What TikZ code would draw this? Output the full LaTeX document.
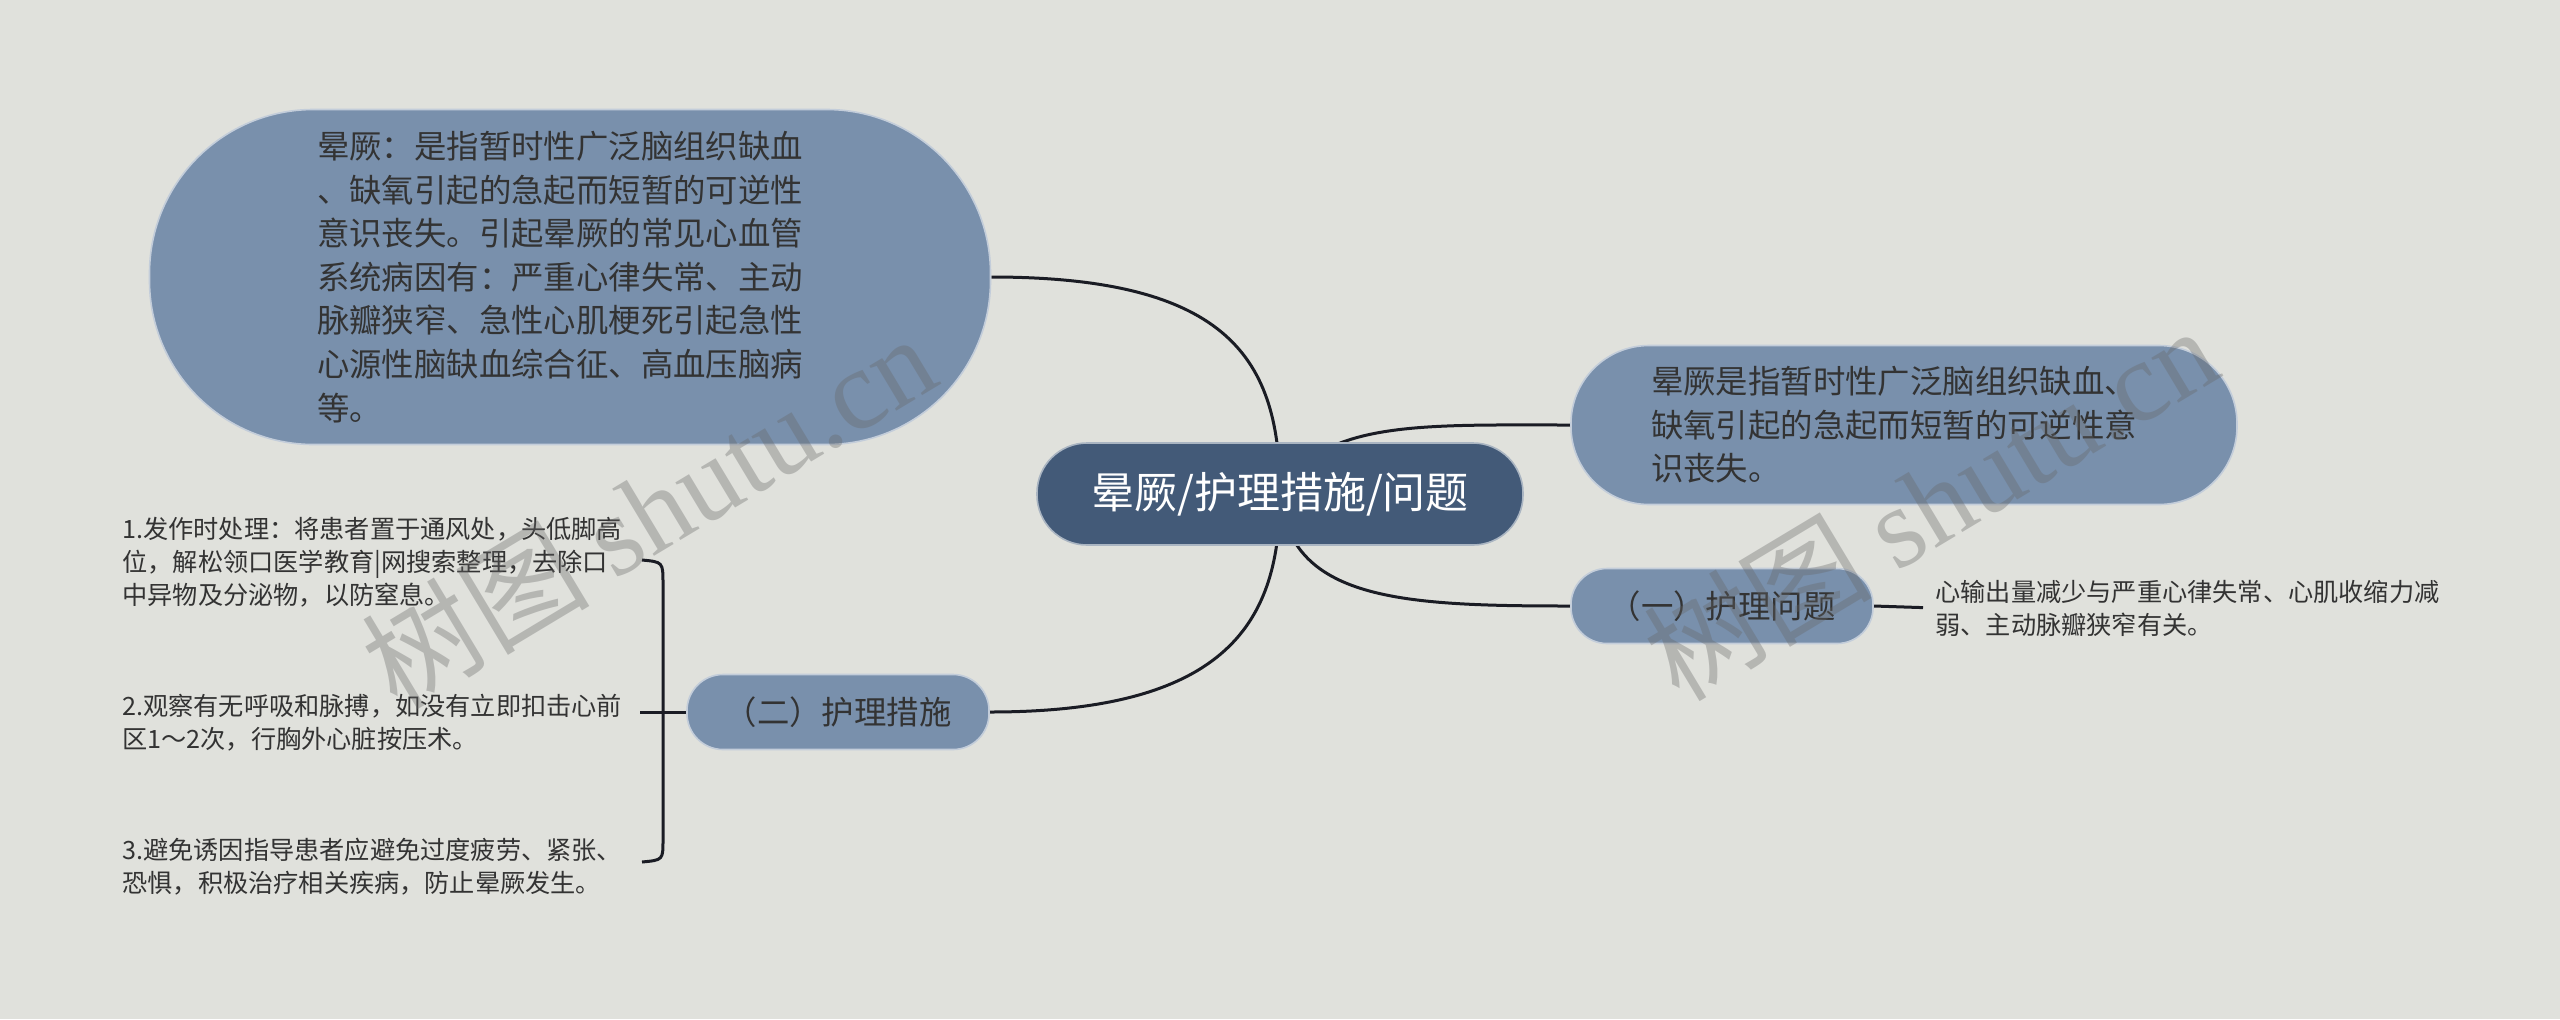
\documentclass[tikz,border=0pt]{standalone}
\usepackage{fontspec}
\setmainfont{Noto Sans CJK SC}
\newfontfamily\wmfont{Liberation Serif}
\usetikzlibrary{backgrounds}
\definecolor{bgcol}{HTML}{E0E1DC}
\definecolor{rootcol}{HTML}{435A78}
\definecolor{topiccol}{HTML}{7990AC}
\definecolor{textcol}{HTML}{333333}
\definecolor{linecol}{HTML}{1A1C24}
\tikzset{
  rootbox/.style={fill=rootcol, draw=white!55!rootcol, line width=0.8pt, text=white,
    font=\fontsize{21.5}{26}\selectfont, rounded corners=25pt,
    minimum width=243pt, minimum height=51pt, inner sep=0pt},
  topicbox/.style={fill=topiccol, draw=white!55!topiccol, line width=0.8pt, text=textcol,
    font=\fontsize{16.2}{21.8}\selectfont, align=left, inner sep=0pt},
  notetext/.style={text=textcol, font=\fontsize{12.6}{16.5}\selectfont, align=left,
    anchor=west, inner sep=0pt},
  branchline/.style={draw=linecol, line width=1.5pt},
  watermark/.style={text=black!60, opacity=0.35, font=\fontsize{57}{60}\selectfont, rotate=31},
}

\begin{document}
\begin{tikzpicture}[x=0.5pt,y=-0.5pt]
  \useasboundingbox (0,0) rectangle (2560,1019);

  % centre and topics
  \node[rootbox] (root) at (1280,494) {晕厥/护理措施/问题};
  \node[topicbox, minimum width=420.5pt, minimum height=167.5pt, rounded corners=82pt] (def) at (570,277)
    {晕厥：是指暂时性广泛脑组织缺血\hspace*{10pt}\\、缺氧引起的急起而短暂的可逆性\\意识丧失。引起晕厥的常见心血管\\系统病因有：严重心律失常、主动\\脉瓣狭窄、急性心肌梗死引起急性\\心源性脑缺血综合征、高血压脑病\\等。};
  \node[topicbox, minimum width=333pt, minimum height=79.5pt, rounded corners=39pt] (sum) at (1904,425)
    {晕厥是指暂时性广泛脑组织缺血、\hspace*{10pt}\\缺氧引起的急起而短暂的可逆性意\\识丧失。};
  \node[topicbox, minimum width=151pt, minimum height=37.5pt, rounded corners=18pt] (prob) at (1722,606) {（一）护理问题};
  \node[topicbox, minimum width=151pt, minimum height=37.5pt, rounded corners=18pt] (meas) at (838,712) {（二）护理措施};

  % notes
  \node[notetext] (probtxt) at (1935,608) {心输出量减少与严重心律失常、心肌收缩力减\\弱、主动脉瓣狭窄有关。};
  \node[notetext] (m1) at (122,562) {1.发作时处理：将患者置于通风处，头低脚高\\位，解松领口医学教育|网搜索整理，去除口\\中异物及分泌物，以防窒息。};
  \node[notetext] (m2) at (122,723) {2.观察有无呼吸和脉搏，如没有立即扣击心前\\区1～2次，行胸外心脏按压术。};
  \node[notetext] (m3) at (122,867) {3.避免诱因指导患者应避免过度疲劳、紧张、\\恐惧，积极治疗相关疾病，防止晕厥发生。};

  \coordinate (brtop) at (642,560);
  \coordinate (brbot) at (642,862);
  \coordinate (brmid) at (640,712);

  % watermarks
  \node[watermark] (wm1) at (648,510) {树图 {\wmfont shutu.cn}};
  \node[watermark] (wm2) at (1930,502) {树图 {\wmfont shutu.cn}};

  \begin{scope}[on background layer]
    \fill[bgcol] (0,0) rectangle (2560,1019);
    \draw[branchline] (def.east) .. controls (1230,277) and (1280,360) .. (root.center);
    \draw[branchline] (meas.east) .. controls (1230,712) and (1280,620) .. (root.center);
    \draw[branchline] (root.center) .. controls (1320,420) and (1420,425) .. (sum.west);
    \draw[branchline] (root.center) .. controls (1290,600) and (1400,606) .. (prob.west);
    \draw[branchline, shorten >=6pt] (prob.east) -- (probtxt.west);
    \draw[branchline] (meas.west) -- (brmid);
    \draw[branchline] (brtop) .. controls (663,562) .. (663,584) -- (663,840) .. controls (663,860) .. (brbot);
  \end{scope}
\end{tikzpicture}
\end{document}
